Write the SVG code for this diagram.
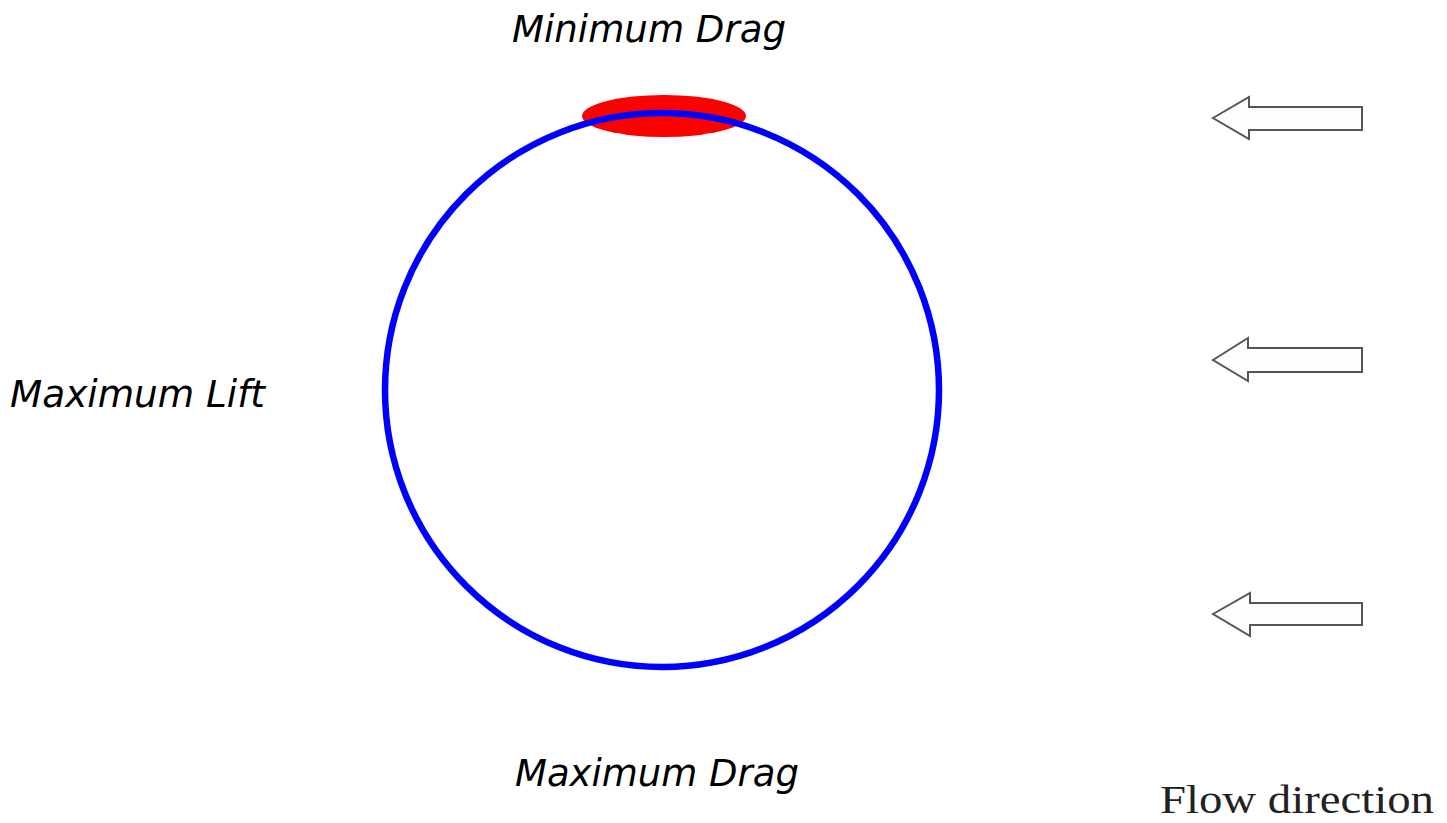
<svg xmlns="http://www.w3.org/2000/svg" width="1447" height="823" viewBox="0 0 1447 823">
<style>
.lbl{font-family:"DejaVu Sans",Verdana,sans-serif;font-style:italic;font-size:37px;fill:#000}
.flow{fill:#fdfdfd;stroke:#555;stroke-width:2;stroke-linejoin:miter}
.cap{font-family:"Liberation Serif","Times New Roman",serif;font-size:40px;fill:#222}
</style>
<rect width="1447" height="823" fill="#fff"/>
<g id="drag-spot"><ellipse cx="664" cy="116" rx="82" ry="21" fill="#ff0000"/></g>
<g id="cylinder"><circle cx="662" cy="390" r="277" fill="none" stroke="#0000ff" stroke-width="6.5"/></g>
<g id="label-min-drag"><text class="lbl" x="512" y="42" textLength="274" lengthAdjust="spacingAndGlyphs">Minimum Drag</text></g>
<g id="label-max-lift"><text class="lbl" x="10" y="407" textLength="255" lengthAdjust="spacingAndGlyphs">Maximum Lift</text></g>
<g id="label-max-drag"><text class="lbl" x="515" y="786" textLength="284" lengthAdjust="spacingAndGlyphs">Maximum Drag</text></g>
<g id="flow-arrows">
<polygon class="flow" points="1213,118 1249,97 1249,107 1362,107 1362,130 1249,130 1249,139"/>
<polygon class="flow" points="1213,360 1248,338 1248,348 1362,348 1362,372 1248,372 1248,381"/>
<polygon class="flow" points="1213,614 1250,593 1250,603 1362,603 1362,625 1250,625 1250,636"/>
</g>
<g id="label-flow"><text class="cap" x="1160" y="813" textLength="274" lengthAdjust="spacingAndGlyphs">Flow direction</text></g>
</svg>
